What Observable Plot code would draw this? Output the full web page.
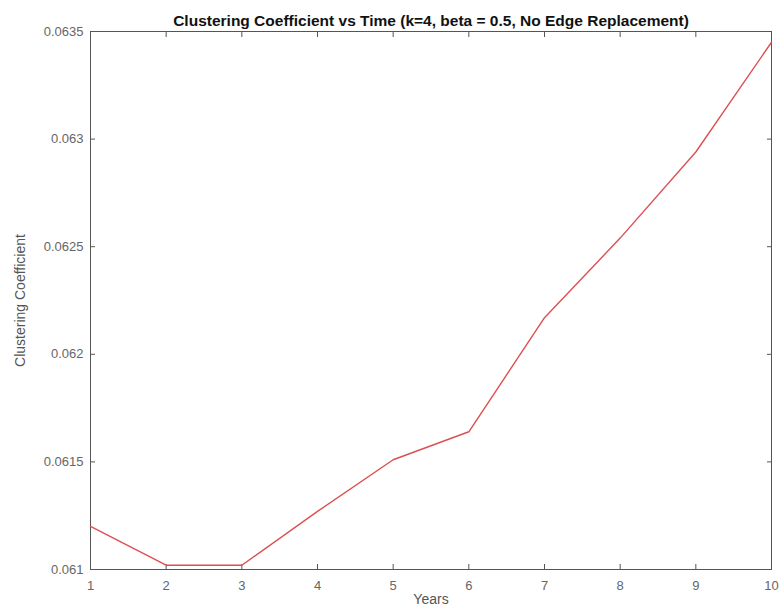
<!DOCTYPE html>
<html>
<head>
<meta charset="utf-8">
<script src="https://cdn.jsdelivr.net/npm/d3@7"></script>
<script src="https://cdn.jsdelivr.net/npm/@observablehq/plot@0.6"></script>
<style>
  html, body { margin: 0; padding: 0; background: #fff; }
  #chart svg { display: block; }
</style>
</head>
<body>
<div id="chart"></div>
<script>
const years = [1, 2, 3, 4, 5, 6, 7, 8, 9, 10];
const clustering = [0.06120, 0.06102, 0.06102, 0.06127, 0.06151, 0.06164, 0.06217, 0.06254, 0.06294, 0.06345];
const yTicks = [0.061, 0.0615, 0.062, 0.0625, 0.063, 0.0635];
const yTickLabels = ["0.061", "0.0615", "0.062", "0.0625", "0.063", "0.0635"];
const xTicks = [1, 2, 3, 4, 5, 6, 7, 8, 9, 10];
const title = "Clustering Coefficient vs Time (k=4, beta = 0.5, No Edge Replacement)";

const data = years.map((y, i) => ({year: y, value: clustering[i]}));
const axisColor = "#555";
const font = "'Liberation Sans', Arial, sans-serif";

const chart = Plot.plot({
  width: 783,
  height: 608,
  marginLeft: 90,
  marginRight: 12,
  marginTop: 31,
  marginBottom: 39,
  style: {fontFamily: font, fontSize: "13px", color: "#666", background: "#fff"},
  x: {domain: [1, 10], ticks: xTicks},
  y: {domain: [0.061, 0.0635], ticks: yTicks},
  marks: [
    Plot.frame({stroke: axisColor, strokeWidth: 1}),
    Plot.axisX({anchor: "bottom", ticks: xTicks, tickSize: -5, tickPadding: 16, stroke: axisColor, tickFormat: d => String(d), label: null, fill: "#666", fontSize: 13}),
    Plot.axisX({anchor: "top", ticks: xTicks, tickSize: -5, text: null, stroke: axisColor, label: null}),
    Plot.axisY({anchor: "left", ticks: yTicks, tickSize: -5, tickPadding: 12, stroke: axisColor, tickFormat: d => yTickLabels[yTicks.indexOf(d)], label: null, fill: "#666", fontSize: 13}),
    Plot.axisY({anchor: "right", ticks: yTicks, tickSize: -5, text: null, stroke: axisColor, label: null}),
    Plot.line(data, {x: "year", y: "value", stroke: "#dc4f52", strokeWidth: 1.4}),
    Plot.text([title], {frameAnchor: "top", dy: -17, text: d => d, fontWeight: "bold", fontSize: 15.5, fill: "#111"}),
    Plot.text(["Years"], {frameAnchor: "bottom", dy: 34, text: d => d, fontSize: 14, fill: "#555"}),
    Plot.text(["Clustering Coefficient"], {frameAnchor: "left", dx: -70, rotate: -90, textAnchor: "middle", text: d => d, fontSize: 14, fill: "#555"})
  ]
});
document.getElementById("chart").appendChild(chart);
</script>
</body>
</html>
